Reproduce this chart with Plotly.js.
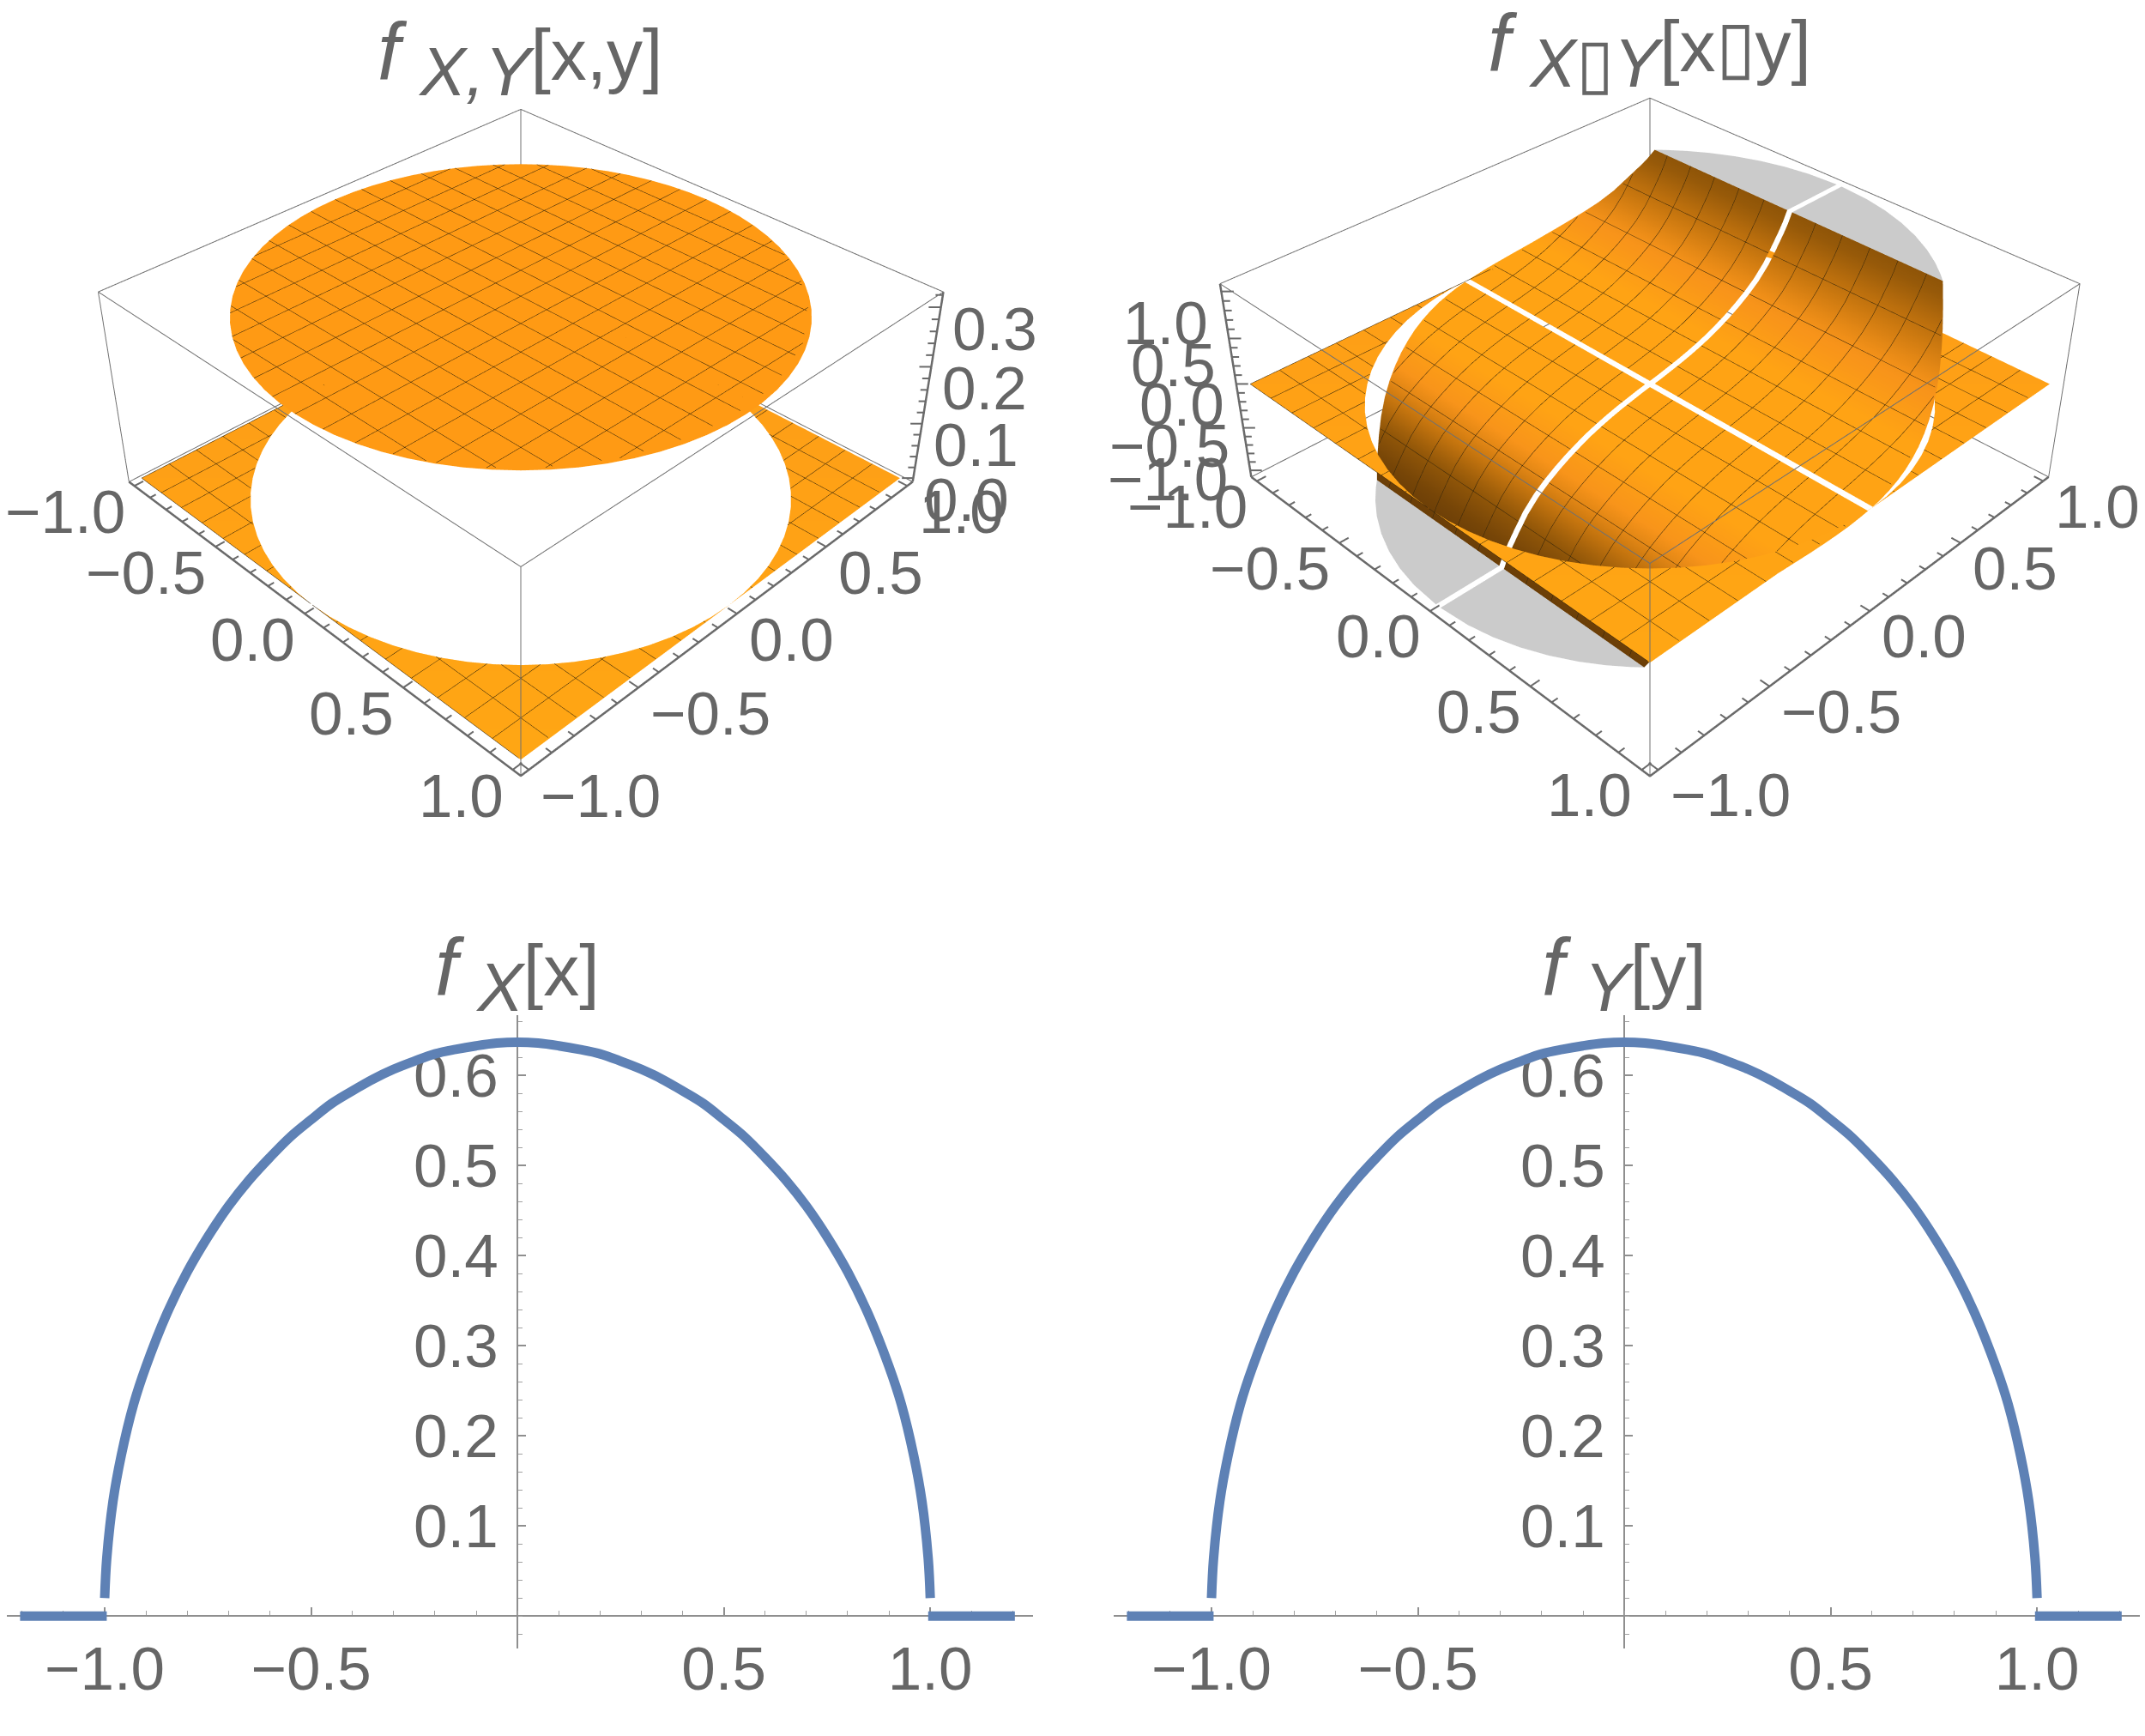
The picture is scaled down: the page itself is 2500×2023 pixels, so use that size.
<!DOCTYPE html>
<html><head><meta charset="utf-8">
<script src="https://cdn.plot.ly/plotly-3.0.1.min.js"></script>
<style>html,body{margin:0;padding:0;background:#fff;overflow:hidden;width:2500px;height:2023px}
#chart{position:absolute;left:0;top:-400px;width:2500px;height:2823px}</style>
</head><body><div id="chart"></div>
<script>
// ---- values ----
var marginalX = [-1,-0.995,-0.98,-0.96,-0.93,-0.9,-0.85,-0.8,-0.75,-0.7,-0.65,-0.6,-0.55,-0.5,-0.45,-0.4,-0.35,-0.3,-0.25,-0.2,-0.15,-0.1,-0.05,0,0.05,0.1,0.15,0.2,0.25,0.3,0.35,0.4,0.45,0.5,0.55,0.6,0.65,0.7,0.75,0.8,0.85,0.9,0.93,0.96,0.98,0.995,1];
var marginalY = [0.02,0.064,0.127,0.178,0.235,0.277,0.335,0.382,0.421,0.455,0.484,0.509,0.532,0.551,0.569,0.583,0.596,0.607,0.616,0.624,0.629,0.633,0.636,0.637,0.636,0.633,0.629,0.624,0.616,0.607,0.596,0.583,0.569,0.551,0.532,0.509,0.484,0.455,0.421,0.382,0.335,0.277,0.235,0.178,0.127,0.064,0.02];
var tailLeftX = [-1.205,-0.995], tailRightX = [0.995,1.205], tailY = [0,0];
var xTicks2D = [-1,-0.5,0.5,1], xTickText2D = ['−1.0','−0.5','0.5','1.0'];
var yTicks2D = [0.1,0.2,0.3,0.4,0.5,0.6], yTickText2D = ['0.1','0.2','0.3','0.4','0.5','0.6'];

var rimY = [-1,-0.9962,-0.9848,-0.9659,-0.9397,-0.9063,-0.866,-0.8192,-0.766,-0.7071,-0.6428,-0.5736,-0.5,-0.4226,-0.342,-0.2588,-0.1736,-0.0872,0,0.0872,0.1736,0.2588,0.342,0.4226,0.5,0.5736,0.6428,0.7071,0.766,0.8192,0.866,0.9063,0.9397,0.9659,0.9848,0.9962,1];
var rimW = [0,0.0872,0.1736,0.2588,0.342,0.4226,0.5,0.5736,0.6428,0.7071,0.766,0.8192,0.866,0.9063,0.9397,0.9659,0.9848,0.9962,1,0.9962,0.9848,0.9659,0.9397,0.9063,0.866,0.8192,0.766,0.7071,0.6428,0.5736,0.5,0.4226,0.342,0.2588,0.1736,0.0872,0];
var jointValue = 0.318;
var condY = [0.012,0.05,0.1,0.15,0.2,0.25,0.3,0.35,0.4,0.45,0.5,0.55,0.6,0.64,0.68,0.7,0.72];
var condW = [0.9999,0.9987,0.995,0.9887,0.9798,0.9682,0.9539,0.9367,0.9165,0.893,0.866,0.8352,0.8,0.7684,0.7332,0.7141,0.694];
var condZ = [0.004,0.02,0.045,0.07,0.1,0.135,0.175,0.225,0.28,0.345,0.42,0.51,0.63,0.76,0.9,0.98,1.08];
var condShadeUp = [1,1,1,1,1,1,1,0.95,0.9,0.84,0.8,0.72,0.62,0.52,0.4,0.34,0.3];
var condShadeDown = [1,1,1,1,1,1,1,0.94,0.88,0.82,0.72,0.58,0.4,0.25,0.1,0.05,0];
var capY = [0.72,0.75,0.8,0.85,0.9,0.94,0.97,0.99,1];
var capW = [0.694,0.6614,0.6,0.5268,0.4359,0.3412,0.2431,0.1411,0];
var xyTicks3D = [-1,-0.5,0,0.5,1], xyTickText3D = ['−1.0','−0.5','0.0','0.5','1.0'];
var xyMinor3D = [-0.9,-0.8,-0.7,-0.6,-0.4,-0.3,-0.2,-0.1,0.1,0.2,0.3,0.4,0.6,0.7,0.8,0.9];
var jointZTicks = [0,0.1,0.2,0.3], jointZText = ['0.0','0.1','0.2','0.3'];
var jointZMinor = [0.02,0.04,0.06,0.08,0.12,0.14,0.16,0.18,0.22,0.24,0.26,0.28,0.32];
var condZTicks = [-1,-0.5,0,0.5,1], condZText = ['−1.0','−0.5','0.0','0.5','1.0'];
var condZMinor = [-0.9,-0.8,-0.7,-0.6,-0.4,-0.3,-0.2,-0.1,0.1,0.2,0.3,0.4,0.6,0.7,0.8,0.9];

// ---- style ----
var PAD=400, G=2023+2*PAD, TXT='#666666', FONT='Liberation Sans, Arial, sans-serif';
var XYR=1.035, XYAX=1.0355, MESH={start:-1,end:1,size:0.125};
var jointZLabelDx=[11,11,11,11], jointZLabelDy=[-25,-25,-25,-25];
var condZLabelDx=[-24,-14,-12,-13,-13], condZLabelDy=[-11,-21,-24,-31,-37];
function px(p){return p/2500;}
function py(p){return 1-(p+PAD)/G;}
var ORANGE=[[0,'#6b3e07'],[0.3,'#8f5508'],[0.6,'#c9770f'],[0.82,'#f8941a'],[1,'#ffa314']];
var FLOOR=[[0,'#fe9b17'],[1,'#ffa614']];
var GREY=[[0,'#cbcbcb'],[1,'#cbcbcb']];
var meshLine={color:'#33240a',width:2,highlight:false};
function contours(){return {x:Object.assign({show:true},MESH,meshLine),y:Object.assign({show:true},MESH,meshLine),z:{show:false,highlight:false}};}
var FLAT={ambient:1,diffuse:0,specular:0,roughness:1,fresnel:0};
function surf(X,Y,Z,C,scale,cmin,cmax,scene,mesh){
  var t={type:'surface',scene:scene,x:X,y:Y,z:Z,surfacecolor:C,colorscale:scale,cmin:cmin,cmax:cmax,showscale:false,lighting:FLAT,hoverinfo:'skip'};
  t.contours = mesh?contours():{x:{show:false,highlight:false},y:{show:false,highlight:false},z:{show:false,highlight:false}};
  return t;
}
function patch(ys,from,to,zf,cf,scale,cmin,cmax,scene,mesh){
  var fr=[0,0.1,0.2,0.3,0.4,0.5,0.6,0.7,0.8,0.9,1];
  var X=[],Y=[],Z=[],C=[];
  ys.forEach(function(y,i){
    var rx=[],ry=[],rz=[],rc=[];
    fr.forEach(function(u){var x=from(i)+(to(i)-from(i))*u;rx.push(x);ry.push(y);rz.push(zf(i));rc.push(cf(x,y,i));});
    X.push(rx);Y.push(ry);Z.push(rz);C.push(rc);
  });
  return surf(X,Y,Z,C,scale,cmin,cmax,scene,mesh);
}
function floorShade(x,y){return (x-y+2)/4;}
function floorPair(scene){
  return [patch(rimY,function(){return -1;},function(i){return -rimW[i];},function(){return 0;},floorShade,FLOOR,0,1,scene,true),
          patch(rimY,function(i){return rimW[i];},function(){return 1;},function(){return 0;},floorShade,FLOOR,0,1,scene,true)];
}
function line3(scene,xs,ys,zs,color,width){
  return {type:'scatter3d',mode:'lines',scene:scene,x:xs,y:ys,z:zs,line:{color:color,width:width},hoverinfo:'skip',showlegend:false};
}
function boxTraces(scene,zlo,zhi,zTicks,zMinor,zOnRight){
  var r=XYR,out=[],thin='#707070',thick='#6a6a6a',N=null;
  var zx=zOnRight?r:-r, zy=zOnRight?r:-r, sg=zOnRight?-1:1;
  out.push(line3(scene,
    [-r,-r,N, r,r,N, r,r,N, -r,-r,N, -r,r,r,-r,-r,N, r,-r,-r],
    [-r,-r,N, -r,-r,N, r,r,N, r,r,N, -r,-r,r,r,-r,N, r,r,-r],
    [zlo,zhi,N, zlo,zhi,N, zlo,zhi,N, zlo,zhi,N, zhi,zhi,zhi,zhi,zhi,N, zlo,zlo,zlo],thin,2));
  out.push(line3(scene,[-r,r,r,N,zx,zx],[-r,-r,r,N,zy,zy],[zlo,zlo,zlo,N,zlo,zhi],thick,5));
  var tx=[],ty=[],tz=[];
  function seg(a,b,c,d,e,f){tx.push(a,d,null);ty.push(b,e,null);tz.push(c,f,null);}
  xyTicks3D.concat(xyMinor3D).forEach(function(v){
    var l=xyTicks3D.indexOf(v)>=0?0.04:0.026;
    seg(v,-r,zlo,v,-r+l,zlo); seg(r,v,zlo,r-l,v,zlo);
  });
  zTicks.concat(zMinor).forEach(function(v){
    var l=zTicks.indexOf(v)>=0?0.03:0.018;
    seg(zx,zy,v,zx+sg*l,zy+sg*l,v);
  });
  out.push(line3(scene,tx,ty,tz,thick,4));
  return out;
}
function labels(r,zlo,zTicks,zText,zOnRight,zDx,zDy){
  var a=[],f={family:FONT,size:71,color:TXT};
  xyTicks3D.forEach(function(v,i){
    a.push({x:v,y:-r,z:zlo,text:xyTickText3D[i],showarrow:false,xanchor:'right',yanchor:'middle',xshift:-9,yshift:-30,font:f});
    a.push({x:r,y:v,z:zlo,text:xyTickText3D[i],showarrow:false,xanchor:'left',yanchor:'middle',xshift:12,yshift:-30,font:f});
  });
  zTicks.forEach(function(v,i){
    a.push({x:zOnRight?r:-r,y:zOnRight?r:-r,z:v,text:zText[i],showarrow:false,xanchor:zOnRight?'left':'right',yanchor:'middle',xshift:zDx[i],yshift:zDy[i],font:f});
  });
  return a;
}
function sceneLayout(cx,cy,H,W,zr,eye,ann){
  function ax(rng){return {range:rng,showgrid:false,showline:false,showticklabels:false,ticks:'',zeroline:false,showspikes:false,showbackground:false,showaxeslabels:false,title:{text:''},visible:true,autorange:false};}
  return {domain:{x:[px(cx-W/2),px(cx+W/2)],y:[py(cy+H/2),py(cy-H/2)]},
    xaxis:ax([-XYAX,XYAX]),yaxis:ax([-XYAX,XYAX]),zaxis:ax(zr),
    aspectmode:'manual',aspectratio:{x:1,y:1,z:0.4},
    camera:{eye:eye,center:{x:0,y:0,z:0},up:{x:0,y:0,z:1},projection:{type:'perspective'}},
    annotations:ann,dragmode:false,bgcolor:'rgba(0,0,0,0)'};
}
var traces=[];
traces=traces.concat(floorPair('scene'));
traces.push(patch(rimY,function(i){return -rimW[i];},function(i){return rimW[i];},function(){return jointValue;},function(){return 0;},[[0,'#ff9a14'],[1,'#ff9a14']],0,1,'scene',true));
traces=traces.concat(boxTraces('scene',-0.007,0.325,jointZTicks,jointZMinor,true));
traces=traces.concat(floorPair('scene2'));
[1,-1].forEach(function(sy){
  [1,-1].forEach(function(sx){
    var ys=condY.map(function(v){return sy*v;});
    var sh=sy>0?condShadeUp:condShadeDown;
    traces.push(patch(ys,function(){return sx*0.012;},function(i){return sx*condW[i];},function(i){return sy*condZ[i];},function(x,y,i){return sh[i];},ORANGE,0,1,'scene2',true));
    var cy=capY.map(function(v){return sy*v;});
    traces.push(patch(cy,function(){return sx*0.012;},function(i){return sx*Math.max(capW[i],0.012);},function(){return sy*1.08;},function(){return 0;},GREY,0,1,'scene2',false));
  });
});
traces=traces.concat(boxTraces('scene2',-1.08,1.08,condZTicks,condZMinor,false));
var curve={color:'#5e81b5',width:11};
var curveSmooth={color:'#5e81b5',width:11,shape:'spline',smoothing:1};
function marg(xa,ya){
  return [{type:'scatter',mode:'lines',x:marginalX,y:marginalY,xaxis:xa,yaxis:ya,line:curveSmooth,hoverinfo:'skip'},
  {type:'scatter',mode:'lines',x:tailLeftX,y:tailY,xaxis:xa,yaxis:ya,line:curve,hoverinfo:'skip'},
  {type:'scatter',mode:'lines',x:tailRightX,y:tailY,xaxis:xa,yaxis:ya,line:curve,hoverinfo:'skip'}];
}
traces=traces.concat(marg('x','y')).concat(marg('x2','y2'));
function xAxis(l,r){return {domain:[px(l),px(r)],range:[-1.237,1.249],anchor:'free',position:py(1883),layer:'below traces',showgrid:false,zeroline:false,showline:true,linecolor:'#8f8f8f',linewidth:2,ticks:'inside',ticklen:9,tickcolor:'#8f8f8f',tickwidth:1.5,tickvals:xTicks2D,ticktext:xTickText2D,tickfont:{family:FONT,size:71,color:TXT},ticklabelstandoff:0,minor:{ticks:'inside',ticklen:5,tickcolor:'#a0a0a0',tickwidth:1,dtick:0.1,showgrid:false}};}
function yAxis(c){return {domain:[py(1921),py(1183)],range:[-0.036,0.667],anchor:'free',position:px(c),layer:'below traces',showgrid:false,zeroline:false,showline:true,linecolor:'#8f8f8f',linewidth:2,ticks:'inside',ticklen:9,tickcolor:'#8f8f8f',tickwidth:1.5,tickvals:yTicks2D,ticktext:yTickText2D,tickfont:{family:FONT,size:71,color:TXT},ticklabelstandoff:7,minor:{ticks:'inside',ticklen:5,tickcolor:'#a0a0a0',tickwidth:1,dtick:0.02,showgrid:false}};}
function title(cx,cy,sub,body){
  return {xref:'paper',yref:'paper',x:px(cx),y:py(cy),xanchor:'center',yanchor:'middle',showarrow:false,
    text:'<i><span style="font-size:94px">f</span></i> <sub><span style="font-size:80px">'+sub+'</span></sub>'+body,font:{family:FONT,size:84,color:TXT}};
}
var eye={x:1.748,y:-1.748,z:1.698};
var layout={width:2500,height:G,margin:{l:0,r:0,t:0,b:0},paper_bgcolor:'#fff',plot_bgcolor:'rgba(0,0,0,0)',showlegend:false,
  scene:sceneLayout(607,455,1666,1210,[-0.00705,0.32505],eye,labels(XYR,-0.007,jointZTicks,jointZText,true,jointZLabelDx,jointZLabelDy)),
  scene2:sceneLayout(1923,446,1697,1150,[-1.0805,1.0805],eye,labels(XYR,-1.08,condZTicks,condZText,false,condZLabelDx,condZLabelDy)),
  xaxis:xAxis(8,1204),yaxis:yAxis(603),xaxis2:xAxis(1298,2494),yaxis2:yAxis(1893),
  annotations:[title(606,68,'<i>X,Y</i>','[x,y]'),title(1922,58,'<i>X</i>▯<i>Y</i>','[x▯y]'),title(603,1135,'<i>X</i>','[x]'),title(1893,1135,'<i>Y</i>','[y]')]
};
Plotly.newPlot('chart',traces,layout,{displayModeBar:false,scrollZoom:false});
</script></body></html>
